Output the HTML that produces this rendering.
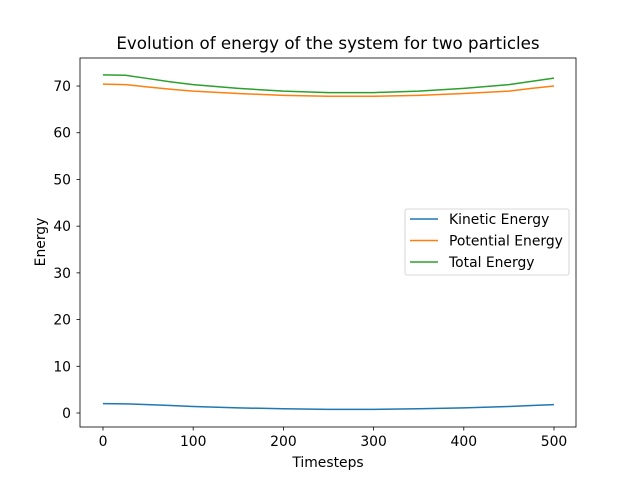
<!DOCTYPE html>
<html><head><meta charset="utf-8"><style>body{margin:0;background:#fff}svg{display:block}text{font-family:"DejaVu Sans","Liberation Sans",sans-serif;fill:#000}</style></head>
<body>
<svg id="chart" width="640" height="480">
<rect x="0" y="0" width="640" height="480" fill="#fff"/>
<text x="328" y="49" font-size="16.7" text-anchor="middle">Evolution of energy of the system for two particles</text>
<g id="plot"></g>
<rect x="80" y="58" width="496" height="369" fill="none" stroke="#000" stroke-width="0.8"/>
<g id="ticks"></g>
<text x="328" y="467" font-size="13.9" text-anchor="middle">Timesteps</text>
<text transform="translate(45,242) rotate(-90)" font-size="13.9" text-anchor="middle">Energy</text>
<g id="legend">
<rect x="405" y="209" width="164" height="66" rx="2" fill="#fff" stroke="#ccc" stroke-width="0.8"/>
</g>
</svg>
<script>
const timesteps=[0,25,50,75,100,150,200,250,300,350,400,450,475,500];
const kinetic=[2.0,1.95,1.8,1.6,1.4,1.1,0.9,0.78,0.78,0.9,1.1,1.4,1.6,1.8];
const potential=[70.4,70.3,69.8,69.3,68.9,68.4,68.0,67.8,67.8,68.0,68.4,68.9,69.5,70.0];
const total=[72.4,72.3,71.6,70.9,70.3,69.5,68.9,68.6,68.6,68.9,69.5,70.3,71.0,71.7];
const seriesNames=["Kinetic Energy","Potential Energy","Total Energy"];
const xTicks=[0,100,200,300,400,500];
const yTicks=[0,10,20,30,40,50,60,70];
const colors=["#1f77b4","#ff7f0e","#2ca02c"];
const NS="http://www.w3.org/2000/svg";
const xs=v=>103+v*0.902;
const ys=v=>413-v*4.671;
function mk(t,a,p){const e=document.createElementNS(NS,t);for(const k in a)e.setAttribute(k,a[k]);p.appendChild(e);return e;}
const plot=document.getElementById('plot');
[kinetic,potential,total].forEach((s,i)=>{
 const p=mk('polyline',{points:s.map((v,j)=>xs(timesteps[j])+','+ys(v)).join(' '),fill:'none',stroke:colors[i],'stroke-width':1.5},plot);
 
 
});
const tk=document.getElementById('ticks');
xTicks.forEach(v=>{
 const l=mk('line',{x1:xs(v),x2:xs(v),y1:427,y2:430.5,stroke:'#000','stroke-width':0.8},tk);
 
 
 const t=mk('text',{x:xs(v),y:446,'font-size':13.9,'text-anchor':'middle'},tk);t.textContent=v;
 
 
});
yTicks.forEach(v=>{
 const l=mk('line',{x1:76.5,x2:80,y1:ys(v),y2:ys(v),stroke:'#000','stroke-width':0.8},tk);
 
 
 const t=mk('text',{x:71,y:ys(v)+5,'font-size':13.9,'text-anchor':'end'},tk);t.textContent=v;
 
 
});
const lg=document.getElementById('legend');
seriesNames.forEach((n,i)=>{
 const y=219+i*21.5;
 const l=mk('line',{x1:410,x2:438,y1:y,y2:y,stroke:colors[i],'stroke-width':1.5},lg);
 
 
 const t=mk('text',{x:449,y:y+5,'font-size':13.9},lg);t.textContent=n;
 
 
});
</script>
</body></html>
